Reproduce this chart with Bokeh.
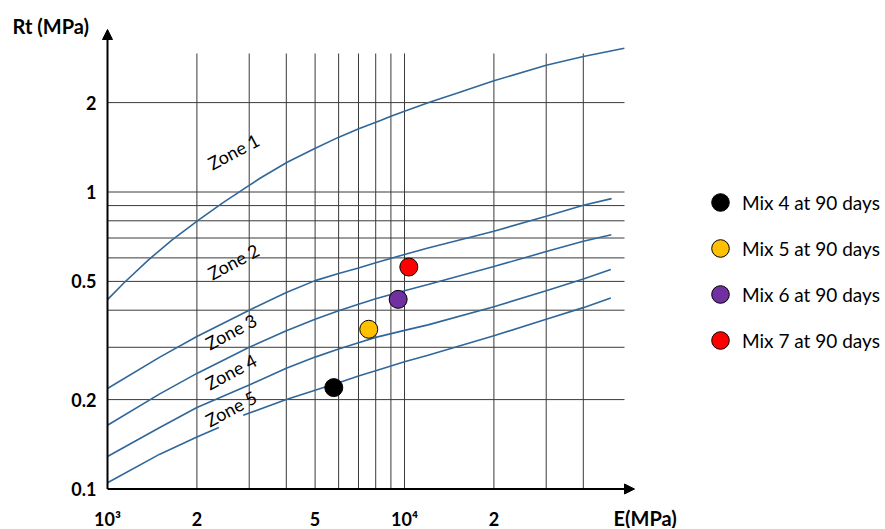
from bokeh.plotting import figure
from bokeh.models import Range1d, Label, Arrow, NormalHead, Legend, LegendItem
from bokeh.core.properties import value
from bokeh.embed import file_html
from bokeh.resources import INLINE
import math

# ---------------- data ----------------
X_TICKS = [1000, 2000, 5000, 10000, 20000]
X_TICK_LABELS = ["10³", "2", "5", "10⁴", "2"]
Y_TICKS = [0.1, 0.2, 0.5, 1, 2]
Y_TICK_LABELS = ["0.1", "0.2", "0.5", "1", "2"]

X_GRID = [2000, 3000, 4000, 5000, 6000, 7000, 8000, 9000, 10000, 20000, 30000, 40000]
Y_GRID = [0.2, 0.3, 0.4, 0.5, 0.6, 0.7, 0.8, 0.9, 1, 2]

# zone boundary curves: E (MPa) and Rt (MPa)
CURVE1_E = [1000, 1135, 1377, 1651, 2029, 2464, 2991, 3273, 4027, 4950, 6009, 7015,
            8300, 9000, 10000, 12070, 15000, 20000, 30000, 40000, 55000]
CURVE1_RT = [0.434, 0.494, 0.592, 0.690, 0.806, 0.924, 1.05, 1.115, 1.26, 1.395, 1.53,
             1.633, 1.741, 1.80, 1.87, 2.0, 2.15, 2.37, 2.67, 2.86, 3.05]

CURVE2_E = [1000, 1500, 2000, 3000, 4000, 5000, 6000, 7000, 8000, 10000, 12000,
            20000, 30000, 40000, 49800]
CURVE2_RT = [0.218, 0.278, 0.326, 0.40, 0.459, 0.503, 0.532, 0.555, 0.578, 0.616, 0.648,
             0.738, 0.828, 0.902, 0.95]

CURVE3_E = [1000, 1500, 2000, 3000, 4000, 5000, 6000, 7000, 8000, 10000, 12000,
            20000, 30000, 40000, 49700]
CURVE3_RT = [0.164, 0.209, 0.245, 0.30, 0.341, 0.373, 0.398, 0.419, 0.437, 0.465, 0.488,
             0.561, 0.63, 0.683, 0.718]

CURVE4_E = [1000, 1500, 2000, 3000, 4000, 5000, 6000, 7000, 8000, 10000, 12000,
            20000, 30000, 40000, 49500]
CURVE4_RT = [0.1287, 0.161, 0.188, 0.224, 0.255, 0.278, 0.296, 0.311, 0.324, 0.342, 0.357,
             0.411, 0.465, 0.509, 0.548]

CURVE5_E = [1000, 1500, 2000, 2371, 2600, 2864, 4000, 5000, 6000, 7000, 8000, 10000,
            12000, 20000, 30000, 40000, 49500]
CURVE5_RT = [0.105, 0.131, 0.1496, 0.161, float("nan"), 0.177, 0.20, 0.215, 0.228, 0.24,
             0.25, 0.268, 0.282, 0.328, 0.373, 0.408, 0.44]

ZONE_NAMES = ["Zone  1", "Zone  2", "Zone  3", "Zone  4", "Zone  5"]

MIX_NAMES = ["Mix 4 at 90 days", "Mix 5 at 90 days", "Mix 6 at 90 days", "Mix 7 at 90 days"]
MIX_E = [5780, 7580, 9520, 10340]
MIX_RT = [0.2195, 0.345, 0.435, 0.559]
MIX_COLORS = ["#000000", "#FFC000", "#7030A0", "#FF0000"]

# ---------------- layout / style ----------------
W, H = 884, 528
X_MIN, Y_MIN = 1000, 0.1            # axis origin
ORIGIN_PX, ORIGIN_PY = 107, 488.5   # where the origin sits on the canvas
PX_PER_DECADE = 297


def x_at(px):
    return X_MIN * 10 ** ((px - ORIGIN_PX) / PX_PER_DECADE)


def y_at(py):
    return Y_MIN * 10 ** ((ORIGIN_PY - py) / PX_PER_DECADE)


GRID_TOP = y_at(53)
GRID_RIGHT = x_at(624)
X_ARROW_END = x_at(634)
Y_ARROW_END = y_at(29)
ZONE_PX = [(235, 150), (235, 260), (232.5, 330), (232.5, 370), (232.5, 407)]
ZONE_ANGLE = math.radians(28)
CURVE_COLOR = "#30679B"
GRID_COLOR = "#3a3a3a"
FONT = "Lato"

p = figure(width=W, height=H, x_axis_type="log", y_axis_type="log",
           x_range=Range1d(x_at(0), x_at(W)), y_range=Range1d(y_at(H), y_at(0)),
           x_axis_location=None, y_axis_location=None,
           output_backend="svg", toolbar_location=None, min_border=0)
p.outline_line_color = None
p.xgrid.visible = False
p.ygrid.visible = False
p.background_fill_color = "white"

# grid
p.segment(x0=X_GRID, y0=[Y_MIN] * len(X_GRID), x1=X_GRID, y1=[GRID_TOP] * len(X_GRID),
          line_color=GRID_COLOR, line_width=1)
p.segment(x0=[X_MIN] * len(Y_GRID), y0=Y_GRID, x1=[GRID_RIGHT] * len(Y_GRID), y1=Y_GRID,
          line_color=GRID_COLOR, line_width=1)

# curves
for ex, rt in [(CURVE1_E, CURVE1_RT), (CURVE2_E, CURVE2_RT), (CURVE3_E, CURVE3_RT),
               (CURVE4_E, CURVE4_RT), (CURVE5_E, CURVE5_RT)]:
    p.line(ex, rt, line_color=CURVE_COLOR, line_width=1.6)

# zone labels
for name, (zx, zy) in zip(ZONE_NAMES, ZONE_PX):
    p.add_layout(Label(x=x_at(zx), y=y_at(zy), text=name, angle=ZONE_ANGLE,
                       text_align="center", text_baseline="middle", text_font=FONT,
                       text_font_size="18px", text_color="black"))

# axes with arrows
p.add_layout(Arrow(end=NormalHead(size=10, fill_color="black", line_color="black"),
                   x_start=X_MIN, y_start=Y_MIN, x_end=X_ARROW_END, y_end=Y_MIN,
                   line_color="black", line_width=2))
p.add_layout(Arrow(end=NormalHead(size=10, fill_color="black", line_color="black"),
                   x_start=X_MIN, y_start=Y_MIN, x_end=X_MIN, y_end=Y_ARROW_END,
                   line_color="black", line_width=2))

# tick labels
p.text(x=X_TICKS, y=[y_at(518)] * len(X_TICKS), text=X_TICK_LABELS,
       text_align="center", text_baseline="middle", text_font=value(FONT),
       text_font_style="bold", text_font_size="18px", text_color="black")
p.text(x=[X_MIN] * len(Y_TICKS), y=Y_TICKS, text=Y_TICK_LABELS, x_offset=-11,
       text_align="right", text_baseline="middle", text_font=value(FONT),
       text_font_style="bold", text_font_size="18px", text_color="black")

# axis titles
p.add_layout(Label(x=x_at(12), y=y_at(25), text="Rt (MPa)", text_align="left",
                   text_baseline="middle", text_font=FONT, text_font_style="bold",
                   text_font_size="20px", text_color="black"))
p.add_layout(Label(x=x_at(613), y=y_at(517), text="E(MPa)", text_align="left",
                   text_baseline="middle", text_font=FONT, text_font_style="bold",
                   text_font_size="20px", text_color="black"))

# mix points + legend
items = []
for name, ex, rt, col in zip(MIX_NAMES, MIX_E, MIX_RT, MIX_COLORS):
    r = p.scatter([ex], [rt], size=18, fill_color=col, line_color="black", line_width=1)
    items.append(LegendItem(label=name, renderers=[r]))

legend = Legend(items=items, location=(698, H - 362), padding=0, margin=0, spacing=2,
                glyph_width=44, glyph_height=44, label_standoff=0,
                label_text_font=FONT, label_text_font_size="19px",
                label_text_color="black", border_line_color=None,
                background_fill_alpha=0)
p.add_layout(legend)

open("out.html", "w").write(file_html(p, INLINE))
